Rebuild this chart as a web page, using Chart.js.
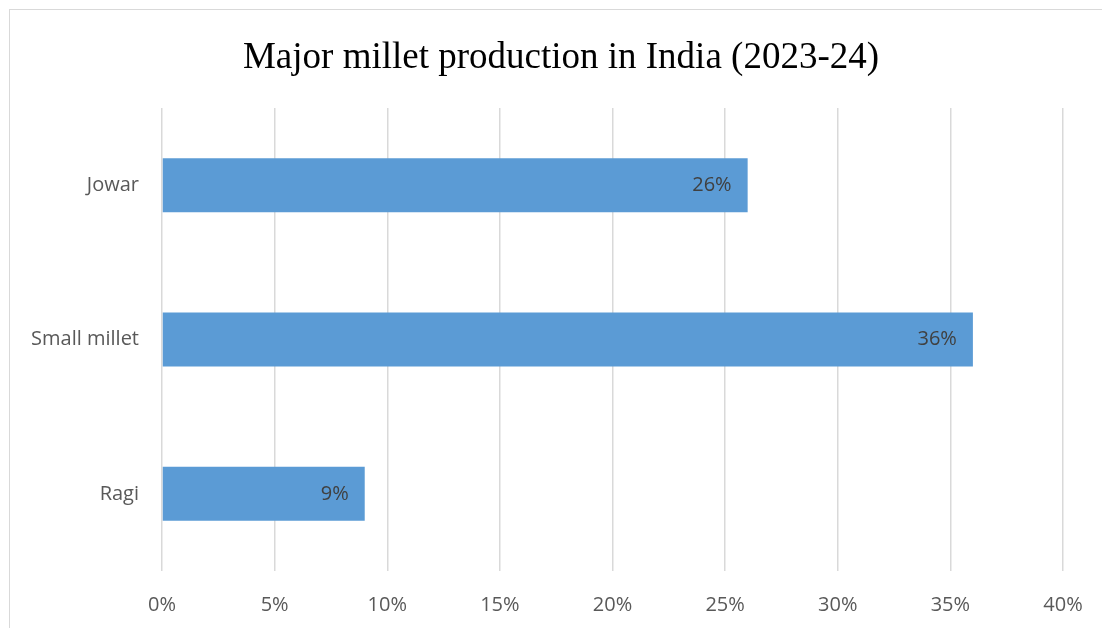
<!DOCTYPE html>
<html>
<head>
<meta charset="utf-8">
<script src="https://cdn.jsdelivr.net/npm/chart.js@4"></script>
<style>
    html, body { margin: 0; padding: 0; background: #fff; overflow: hidden; }
    #wrap { position: relative; width: 1102px; height: 628px; overflow: hidden; }
    #frame { position: absolute; left: 9px; top: 9px; width: 1200px; height: 700px; border: 1px solid #d9d9d9; box-sizing: border-box; }
    #milletChart { position: absolute; left: 0; top: 0; }
</style>
</head>
<body>
<div id="wrap">
    <div id="frame"></div>
    <canvas id="milletChart" width="1122" height="628"></canvas>
</div>
<script>
// Data
const categories = ['Jowar', 'Small millet', 'Ragi'];
const shares = [26, 36, 9]; // percent of production
const xTicksMax = 40;
const xTicksStep = 5;

const barColor = '#5B9BD5';
const gridColor = '#d9d9d9';
const textColor = '#595959';

// Draws the value at the inside end of each bar
const barLabels = {
    id: 'barLabels',
    afterDatasetsDraw(chart) {
        const ctx = chart.ctx;
        const meta = chart.getDatasetMeta(0);
        ctx.save();
        ctx.font = '20px "Open Sans"';
        ctx.fillStyle = '#404040';
        ctx.textAlign = 'right';
        ctx.textBaseline = 'middle';
        meta.data.forEach((bar, i) => {
            ctx.fillText(shares[i] + '%', bar.x - 16, bar.y);
        });
        ctx.restore();
    }
};

const ctx = document.getElementById('milletChart').getContext('2d');
new Chart(ctx, {
    type: 'bar',
    data: {
        labels: categories,
        datasets: [{
            data: shares,
            backgroundColor: barColor,
            borderWidth: 0,
            barPercentage: 0.7,
            categoryPercentage: 0.5
        }]
    },
    options: {
        indexAxis: 'y',
        responsive: false,
        animation: false,
        layout: {
            padding: 0
        },
        scales: {
            x: {
                min: 0,
                max: xTicksMax,
                border: { display: false },
                grid: { color: gridColor, lineWidth: 1.5, drawTicks: false },
                ticks: {
                    stepSize: xTicksStep,
                    padding: 22,
                    color: textColor,
                    font: { family: 'Open Sans', size: 20 },
                    callback: v => v + '%'
                },
                afterFit: scale => { scale.height = 57; }
            },
            y: {
                border: { display: false },
                grid: { display: false, drawTicks: false },
                ticks: {
                    padding: 23,
                    color: textColor,
                    font: { family: 'Open Sans', size: 20 }
                },
                afterFit: scale => { scale.width = 162; }
            },
            // empty right-hand spacer so the title centres over the whole frame
            spacer: {
                type: 'category',
                axis: 'y',
                position: 'right',
                border: { display: false },
                grid: { display: false, drawTicks: false },
                ticks: { display: false },
                afterFit: scale => { scale.width = 59; }
            }
        },
        plugins: {
            legend: { display: false },
            tooltip: { enabled: false },
            title: {
                display: true,
                text: 'Major millet production in India (2023-24)',
                color: '#000',
                font: { family: 'Liberation Serif', size: 37, weight: 'normal' },
                padding: { top: 36, bottom: 27.6 }
            }
        }
    },
    plugins: [barLabels]
});
</script>
</body>
</html>
